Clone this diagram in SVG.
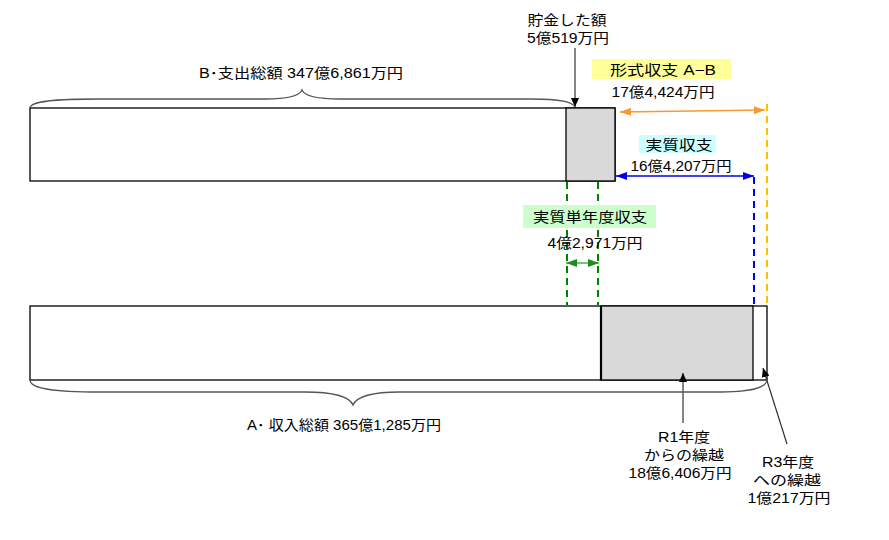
<svg xmlns="http://www.w3.org/2000/svg" width="889" height="540" viewBox="0 0 889 540">
<style>
text{font-family:"Liberation Sans","Noto Sans CJK JP",sans-serif;font-size:14px;fill:#000;text-anchor:middle}
.bar{fill:#fff;stroke:#000;stroke-width:1.3}
.gray{fill:#D9D9D9;stroke:#000;stroke-width:1.3}
.brace{fill:none;stroke:#555;stroke-width:1.3}
.lead{fill:none;stroke:#333;stroke-width:1.2}
</style>
<defs>
<marker id="ak" markerWidth="10" markerHeight="10" refX="9" refY="5" orient="auto" markerUnits="userSpaceOnUse"><path d="M0,1 L9,5 L0,9 Z" fill="#000"/></marker>
<marker id="ao" markerWidth="12" markerHeight="10" refX="11" refY="5" orient="auto-start-reverse" markerUnits="userSpaceOnUse"><path d="M0,1 L11,5 L0,9 Z" fill="#F79A2E"/></marker>
<marker id="ab" markerWidth="12" markerHeight="10" refX="11" refY="5" orient="auto-start-reverse" markerUnits="userSpaceOnUse"><path d="M0,1 L11,5 L0,9 Z" fill="#0000E6"/></marker>
<marker id="ag" markerWidth="12" markerHeight="10" refX="11" refY="5" orient="auto-start-reverse" markerUnits="userSpaceOnUse"><path d="M0,1 L11,5 L0,9 Z" fill="#1E8C1E"/></marker>
</defs>
<rect width="889" height="540" fill="#fff"/>

<g id="top-bar">
<rect class="bar" x="30" y="108" width="585" height="73"/>
<rect class="gray" x="566" y="108" width="49" height="73"/>
</g>

<g id="bottom-bar">
<rect class="bar" x="30" y="306" width="737" height="74"/>
<rect class="gray" x="601" y="306" width="152" height="74"/>
<line x1="601" y1="306" x2="601" y2="380" stroke="#000" stroke-width="2.2"/>
</g>

<g id="connectors">
<line class="lead" x1="575" y1="48" x2="575" y2="107" marker-end="url(#ak)"/>
<line class="lead" x1="683" y1="423" x2="683" y2="373" marker-end="url(#ak)"/>
<line class="lead" x1="787" y1="444" x2="763" y2="368" marker-end="url(#ak)"/>
<line x1="767" y1="104" x2="767" y2="306" stroke="#FFC000" stroke-width="2" stroke-dasharray="7,5"/>
<line x1="754" y1="177" x2="754" y2="306" stroke="#0000FF" stroke-width="2" stroke-dasharray="7,5"/>
<line x1="567" y1="182" x2="567" y2="305" stroke="#008000" stroke-width="2" stroke-dasharray="7,5"/>
<line x1="598" y1="182" x2="598" y2="305" stroke="#008000" stroke-width="2" stroke-dasharray="7,5"/>
<line x1="620" y1="112" x2="765" y2="110" stroke="#F79A2E" stroke-width="1.5" marker-start="url(#ao)" marker-end="url(#ao)"/>
<line x1="616" y1="176" x2="754" y2="176" stroke="#0000E6" stroke-width="1.5" marker-start="url(#ab)" marker-end="url(#ab)"/>
<line x1="566" y1="263" x2="599" y2="263" stroke="#4CAF50" stroke-width="1.5" marker-start="url(#ag)" marker-end="url(#ag)"/>
</g>

<g id="label-B">
<path class="brace" d="M30,108 C30,101 55,99 100,99 L265,99 C290,99 300,95 302,90 C304,95 314,99 340,99 L530,99 C562,99 572,102 575,107"/>
<text x="301" y="78" textLength="204" lengthAdjust="spacingAndGlyphs">B･支出総額 347億6,861万円</text>
</g>

<g id="label-A">
<path class="brace" d="M30,380 C30,388 50,392 100,392 L305,392 C338,392 350,398 353,405 C356,398 368,392 400,392 L715,392 C752,392 766,388 767,380"/>
<text x="344" y="430" textLength="194" lengthAdjust="spacingAndGlyphs">A･ 収入総額 365億1,285万円</text>
</g>

<g id="label-savings">
<text x="567" y="25" textLength="79" lengthAdjust="spacingAndGlyphs">貯金した額</text>
<text x="568" y="43" textLength="82" lengthAdjust="spacingAndGlyphs">5億519万円</text>
</g>

<g id="label-keishiki">
<rect x="592" y="59" width="139" height="20" fill="#FFFF99"/>
<text x="663" y="75" textLength="106" lengthAdjust="spacingAndGlyphs">形式収支 A−B</text>
<text x="663" y="97" textLength="103" lengthAdjust="spacingAndGlyphs">17億4,424万円</text>
</g>

<g id="label-jisshitsu">
<rect x="639" y="135" width="77" height="18" fill="#CCFFFF"/>
<text x="679" y="150" textLength="67" lengthAdjust="spacingAndGlyphs">実質収支</text>
<text x="681" y="171" textLength="101" lengthAdjust="spacingAndGlyphs">16億4,207万円</text>
</g>

<g id="label-tannendo">
<rect x="523" y="205" width="133" height="23" fill="#CCFFCC"/>
<text x="590" y="222" textLength="114" lengthAdjust="spacingAndGlyphs">実質単年度収支</text>
<text x="595" y="248" textLength="95" lengthAdjust="spacingAndGlyphs">4億2,971万円</text>
</g>

<g id="label-R1">
<text x="684" y="442" textLength="52" lengthAdjust="spacingAndGlyphs">R1年度</text>
<text x="684" y="460" textLength="80" lengthAdjust="spacingAndGlyphs">からの繰越</text>
<text x="680" y="478" textLength="103" lengthAdjust="spacingAndGlyphs">18億6,406万円</text>
</g>

<g id="label-R3">
<text x="788" y="467" textLength="52" lengthAdjust="spacingAndGlyphs">R3年度</text>
<text x="787" y="485" textLength="68" lengthAdjust="spacingAndGlyphs">への繰越</text>
<text x="789" y="503" textLength="83" lengthAdjust="spacingAndGlyphs">1億217万円</text>
</g>
</svg>
